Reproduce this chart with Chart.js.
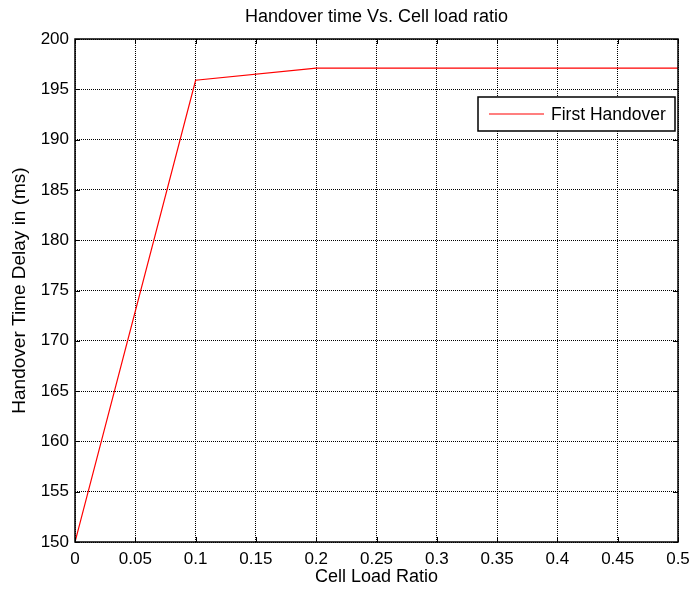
<!DOCTYPE html>
<html>
<head>
<meta charset="utf-8">
<script src="https://cdn.jsdelivr.net/npm/chart.js@4/dist/chart.umd.min.js"></script>
<style>
  html, body { margin: 0; padding: 0; background: #fff; }
  #wrap { width: 691px; height: 594px; }
</style>
</head>
<body>
<div id="wrap"><canvas id="myChart" width="691" height="594"></canvas></div>
<script>
// data
const loadRatio = [0, 0.1, 0.2, 0.3, 0.4, 0.5];
const firstHandover = [150, 195.9, 197.1, 197.1, 197.1, 197.1];
const xTickLabels = ['0', '0.05', '0.1', '0.15', '0.2', '0.25', '0.3', '0.35', '0.4', '0.45', '0.5'];
const yTickLabels = ['150', '155', '160', '165', '170', '175', '180', '185', '190', '195', '200'];

const FONT = 'Arial, "Liberation Sans", Helvetica, sans-serif';

// box around the axes with inward tick marks, like matlab
const boxPlugin = {
    id: 'box',
    afterLayout(chart) {
        // center the title over the axes, not the canvas
        if (chart.titleBlock) {
            chart.titleBlock.left = chart.chartArea.left;
            chart.titleBlock.right = chart.chartArea.right;
        }
    },
    afterDatasetsDraw(chart) {
        const { ctx, chartArea: a, scales } = chart;
        const tl = 5;
        ctx.save();
        ctx.strokeStyle = '#000';
        ctx.lineWidth = 1;
        scales.x.ticks.forEach(t => {
            const px = Math.round(scales.x.getPixelForValue(t.value)) + 0.5;
            ctx.beginPath();
            ctx.moveTo(px, a.bottom); ctx.lineTo(px, a.bottom - tl);
            ctx.moveTo(px, a.top); ctx.lineTo(px, a.top + tl);
            ctx.stroke();
        });
        scales.y.ticks.forEach(t => {
            const py = Math.round(scales.y.getPixelForValue(t.value)) + 0.5;
            ctx.beginPath();
            ctx.moveTo(a.left, py); ctx.lineTo(a.left + tl, py);
            ctx.moveTo(a.right, py); ctx.lineTo(a.right - tl, py);
            ctx.stroke();
        });
        ctx.lineWidth = 1.5;
        ctx.strokeRect(a.left, a.top, a.right - a.left, a.bottom - a.top);

        // legend box
        const ds = chart.data.datasets[0];
        const bx = 478, by = a.top + 58, bw = a.right - 3 - bx, bh = 34;
        ctx.fillStyle = '#fff';
        ctx.fillRect(bx, by, bw, bh);
        ctx.lineWidth = 1.5;
        ctx.strokeStyle = '#000';
        ctx.strokeRect(bx, by, bw, bh);
        ctx.strokeStyle = ds.borderColor;
        ctx.lineWidth = 1.2;
        ctx.beginPath();
        ctx.moveTo(bx + 11, by + bh / 2);
        ctx.lineTo(bx + 66, by + bh / 2);
        ctx.stroke();
        ctx.fillStyle = '#000';
        ctx.font = '17.5px ' + FONT;
        ctx.textBaseline = 'middle';
        ctx.fillText(ds.label, bx + 73, by + bh / 2 + 1);
        ctx.restore();
    }
};

new Chart(document.getElementById('myChart').getContext('2d'), {
    type: 'line',
    data: {
        datasets: [
            {
                label: 'First Handover',
                data: loadRatio.map((x, i) => ({ x: x, y: firstHandover[i] })),
                borderColor: '#ff0000',
                borderWidth: 1.2,
                pointRadius: 0,
                tension: 0,
                fill: false
            }
        ]
    },
    options: {
        responsive: false,
        animation: false,
        layout: { padding: { right: 13 } },
        plugins: {
            legend: { display: false },
            tooltip: { enabled: false },
            title: {
                display: true,
                text: 'Handover time Vs. Cell load ratio',
                color: '#000',
                font: { family: FONT, size: 18, weight: 'normal' },
                padding: { top: 6, bottom: 11.4 }
            }
        },
        scales: {
            x: {
                type: 'linear',
                min: 0,
                max: 0.5,
                afterFit: s => { s.height = 52; s.paddingLeft = 0; s.paddingRight = 0; },
                ticks: {
                    stepSize: 0.05,
                    color: '#000',
                    padding: 7,
                    maxRotation: 0,
                    font: { family: FONT, size: 17 },
                    callback: (v, i) => xTickLabels[i]
                },
                grid: { color: '#000', lineWidth: 1, drawTicks: false },
                border: { display: false, dash: [1, 1] },
                title: {
                    display: true,
                    text: 'Cell Load Ratio',
                    color: '#000',
                    font: { family: FONT, size: 18 },
                    padding: { top: 0, bottom: 6.5 }
                }
            },
            y: {
                min: 150,
                max: 200,
                afterFit: s => { s.width = 75; s.paddingTop = 0; s.paddingBottom = 0; },
                ticks: {
                    stepSize: 5,
                    color: '#000',
                    padding: 6,
                    font: { family: FONT, size: 17 },
                    callback: (v, i) => yTickLabels[i]
                },
                grid: { color: '#000', lineWidth: 1, drawTicks: false },
                border: { display: false, dash: [1, 1] },
                title: {
                    display: true,
                    text: 'Handover Time Delay in (ms)',
                    color: '#000',
                    font: { family: FONT, size: 19 },
                    padding: { top: 8, bottom: 0 }
                }
            }
        }
    },
    plugins: [boxPlugin]
});
</script>
</body>
</html>
